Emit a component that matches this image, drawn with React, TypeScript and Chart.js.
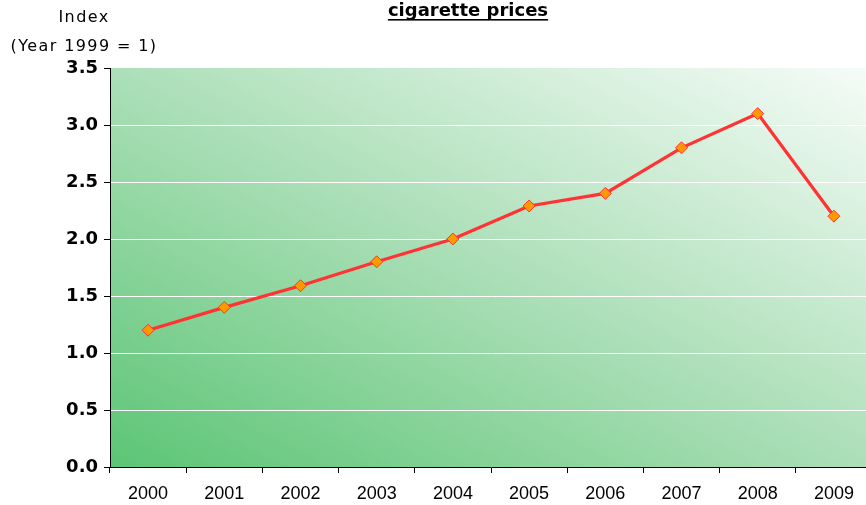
import React, { useEffect, useRef } from "react";
import { Chart, registerables } from "chart.js";

Chart.register(...registerables);

const years = ["2000", "2001", "2002", "2003", "2004", "2005", "2006", "2007", "2008", "2009"];
const priceIndex = [1.2, 1.4, 1.59, 1.8, 2.0, 2.29, 2.4, 2.8, 3.1, 2.2];
const chartTitle = "cigarette prices";
const yLabelLine1 = "Index";
const yLabelLine2 = "(Year 1999 = 1)";

const bgPlugin = {
  id: "bgGradient",
  beforeDraw(chart: any) {
    const { ctx, chartArea } = chart;
    const { left, top, right, bottom } = chartArea;
    const w = right - left;
    const h = bottom - top;
    ctx.save();
    ctx.translate(left, top);
    ctx.scale(w, h);
    const g = ctx.createLinearGradient(0, 1, 1, 0);
    g.addColorStop(0, "#5cc575");
    g.addColorStop(0.5, "#acdfb8");
    g.addColorStop(1, "#f6fcf8");
    ctx.fillStyle = g;
    ctx.fillRect(0, 0, 1, 1);
    ctx.restore();
  },
};

const textPlugin = {
  id: "texts",
  afterDraw(chart: any) {
    const { ctx } = chart;
    ctx.save();
    ctx.fillStyle = "#000";
    ctx.textAlign = "center";
    ctx.textBaseline = "alphabetic";
    ctx.font = "bold 18px 'DejaVu Sans'";
    ctx.fillText(chartTitle, 468, 16);
    const tw = ctx.measureText(chartTitle).width;
    ctx.fillRect(468 - tw / 2, 19, tw, 1.6);
    ctx.font = "16px 'DejaVu Sans'";
    (ctx as any).letterSpacing = "1.4px";
    ctx.textBaseline = "middle";
    ctx.fillText(yLabelLine1, 84, 18);
    ctx.fillText(yLabelLine2, 84, 47);
    ctx.restore();
  },
};

export default function App() {
  const ref = useRef<HTMLCanvasElement>(null);
  useEffect(() => {
    if (!ref.current) return;
    const chart = new Chart(ref.current, {
      type: "line",
      data: {
        labels: years,
        datasets: [
          {
            data: priceIndex,
            borderColor: "#ff3333",
            borderWidth: 3.2,
            pointStyle: "rectRot",
            pointRadius: 6,
            pointBackgroundColor: "#ff9900",
            pointBorderColor: "#ff3333",
            pointBorderWidth: 1,
            tension: 0,
          },
        ],
      },
      options: {
        responsive: false,
        animation: false,
        devicePixelRatio: 1,
        layout: { padding: { top: 68, right: 8, left: 0, bottom: 0 } },
        plugins: {
          legend: { display: false },
          title: { display: false },
          tooltip: { enabled: false },
        },
        scales: {
          x: {
            offset: true,
            grid: {
              display: true,
              offset: true,
              drawOnChartArea: false,
              drawTicks: true,
              tickLength: 6,
              color: "#000",
            },
            border: { display: true, color: "#000", width: 1 },
            ticks: {
              color: "#000",
              font: { family: "'Liberation Sans'", size: 18 },
              padding: 10,
              maxRotation: 0,
            },
            afterFit(scale: any) {
              scale.height = 38;
            },
          },
          y: {
            min: 0,
            max: 3.5,
            ticks: {
              stepSize: 0.5,
              color: "#000",
              font: { family: "'DejaVu Sans'", size: 18, weight: "bold" },
              padding: 6,
              callback: (v: any) => Number(v).toFixed(1),
            },
            grid: {
              color: (c: any) => (c.tick && c.tick.value > 0 && c.tick.value < 3.5 ? "#ffffff" : "rgba(0,0,0,0)"),
              tickColor: "#000",
              tickLength: 6,
              lineWidth: 1,
            },
            border: { display: true, color: "#000", width: 1 },
            afterFit(scale: any) {
              scale.width = 110;
            },
          },
        },
      },
      plugins: [bgPlugin, textPlugin],
    });
    return () => chart.destroy();
  }, []);
  return (
    <div style={{ position: "absolute", left: 0, top: 0, width: 866, height: 505, overflow: "hidden" }}>
      <canvas ref={ref} width={880} height={505} style={{ display: "block" }} />
    </div>
  );
}
